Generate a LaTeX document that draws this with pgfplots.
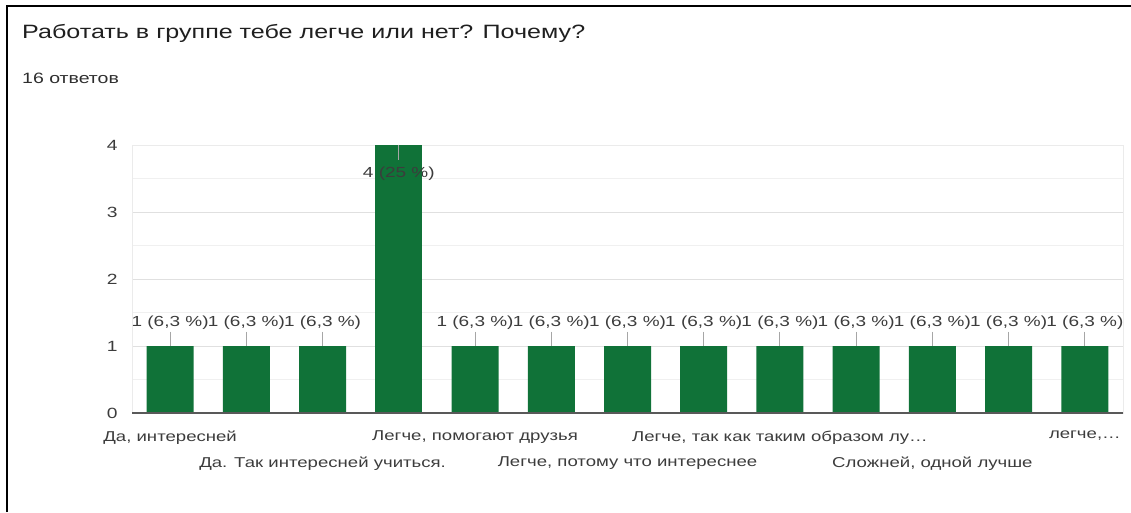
\documentclass[border=0pt]{standalone}
\usepackage{pgfplots}
\pgfplotsset{compat=1.18}
\usepackage{fontspec}
\setmainfont{Liberation Sans}[FakeStretch=1.3]
\definecolor{bargreen}{RGB}{16,114,56}
\definecolor{txt}{RGB}{60,60,60}
\begin{document}
\begin{tikzpicture}[x=1pt,y=1pt]
\useasboundingbox (0,0) rectangle (1131,512);
% screenshot frame
\draw[line width=2.5pt] (7,0) -- (7,506) -- (1131,506);
\node[anchor=base west, inner sep=0, font=\fontsize{19.3}{21}\selectfont, text=black!88]
  at (22,473) {Работать в группе тебе легче или нет? Почему?};
\node[anchor=base west, inner sep=0, font=\fontsize{15}{17}\selectfont, text=black!82]
  at (22,428) {16 ответов};
\begin{axis}[
    at={(132pt,99pt)}, anchor=south west,
    width=991pt, height=268pt, scale only axis,
    xmin=-0.5, xmax=12.5, ymin=0, ymax=4,
    enlargelimits=false,
    ytick={0,1,2,3,4},
    minor y tick num=1,
    ymajorgrids, yminorgrids,
    major grid style={draw=black!12},
    minor grid style={draw=black!6},
    axis line style={draw=black!8},
    major tick length=0pt, minor tick length=0pt,
    /pgf/number format/assume math mode=true,
    yticklabel style={xshift=-11pt, font=\fontsize{14.8}{16}\selectfont, text=txt},
    xticklabel style={font=\fontsize{14.3}{16}\selectfont, text=txt},
    xtick={0,4,8,12},
    xticklabels={{Да, интересней},{Легче, помогают друзья},{Легче, так как таким образом лу…},{легче,…}},
    xticklabel style={yshift=-14pt},
    extra x ticks={2,6,10},
    extra x tick labels={{Да. Так интересней учиться.},{Легче, потому что интереснее},{Сложней, одной лучше}},
    extra x tick style={xticklabel style={yshift=-26pt}},
    clip=false,
]
% bars with one answer
\addplot[ybar, bar width=47pt, bar shift=0pt, fill=bargreen, draw=none,
    nodes near coords, point meta=explicit symbolic,
    every node near coord/.append style={anchor=center, yshift=23pt,
        font=\fontsize{14.6}{16}\selectfont, text=txt},
    error bars/.cd, y dir=plus, y explicit, error mark=none,
    error bar style={draw=black!35, line width=1pt}]
coordinates {
    (0,1) +- (0,0.21) [1 (6,3 \%)]
    (1,1) +- (0,0.21) [1 (6,3 \%)]
    (2,1) +- (0,0.21) [1 (6,3 \%)]
    (4,1) +- (0,0.21) [1 (6,3 \%)]
    (5,1) +- (0,0.21) [1 (6,3 \%)]
    (6,1) +- (0,0.21) [1 (6,3 \%)]
    (7,1) +- (0,0.21) [1 (6,3 \%)]
    (8,1) +- (0,0.21) [1 (6,3 \%)]
    (9,1) +- (0,0.21) [1 (6,3 \%)]
    (10,1) +- (0,0.21) [1 (6,3 \%)]
    (11,1) +- (0,0.21) [1 (6,3 \%)]
    (12,1) +- (0,0.21) [1 (6,3 \%)]
};
% the tall bar
\addplot[ybar, bar width=47pt, bar shift=0pt, fill=bargreen, draw=none,
    nodes near coords, point meta=explicit symbolic,
    every node near coord/.append style={anchor=center, yshift=-29pt,
        font=\fontsize{14.6}{16}\selectfont, text=txt},
    error bars/.cd, y dir=minus, y explicit, error mark=none,
    error bar style={draw=black!35, line width=1pt}]
coordinates {
    (3,4) +- (0,0.22) [4 (25 \%)]
};
\draw[black!65, line width=1.5pt] (rel axis cs:0,0) -- (rel axis cs:1,0);
\end{axis}
\end{tikzpicture}
\end{document}
